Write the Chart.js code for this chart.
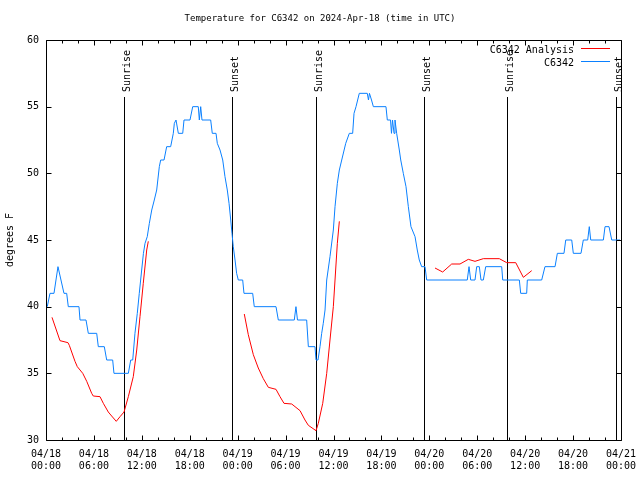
<!DOCTYPE html>
<html>
<head>
<meta charset="utf-8">
<title>Temperature for C6342</title>
<script src="https://cdn.jsdelivr.net/npm/chart.js@4.4.1/dist/chart.umd.min.js"></script>
<style>
  html, body { margin: 0; padding: 0; background: #fff; }
  #chart { display: block; }
</style>
</head>
<body>
<canvas id="chart" width="640" height="480"></canvas>
<script>
// all times are hours since 2024-04-18 00:00 UTC
const obsHours = [
  0.16, 0.5, 1.0, 1.5, 2.25, 2.59, 2.79, 4.13, 4.26, 5.01, 5.3, 6.35, 6.55, 7.3, 7.6, 8.35, 8.51,
  10.31, 10.61, 10.86, 11.14, 11.43, 11.68, 11.98, 12.2, 12.4, 12.68, 12.94, 13.24, 13.56, 13.86,
  14.19, 14.36, 14.78, 15.11, 15.61, 15.94, 16.07, 16.28, 16.57, 17.12, 17.28, 18.03, 18.37, 19.07,
  19.2, 19.37, 19.53, 20.62, 20.82, 21.29, 21.45, 21.79, 22.13, 22.41, 22.7, 22.92, 23.13, 23.29,
  23.45, 23.67, 23.87, 24.08, 24.63, 24.79, 25.88, 26.08, 28.8, 29.09, 31.09, 31.3, 31.49, 32.64,
  32.85, 33.68, 33.81, 34.06, 34.31, 34.52, 34.72, 34.94, 35.15, 35.56, 35.98, 36.19, 36.48, 36.73,
  37.03, 37.53, 37.98, 38.4, 38.57, 38.82, 39.23, 40.23, 40.38, 40.5, 40.76, 40.99, 42.57, 42.74,
  43.14, 43.26, 43.39, 43.58, 43.7, 43.91, 44.24, 44.42, 44.74, 45.08, 45.37, 45.7, 46.21, 46.49,
  46.74, 47.04, 47.46, 47.67, 52.75, 52.97, 53.18, 53.72, 53.93, 54.26, 54.47, 54.76, 55.06, 57.06,
  57.19, 59.27, 59.44, 60.19, 60.27, 62.07, 62.48, 63.74, 64.03, 64.86, 65.08, 65.83, 66.03, 66.99,
  67.28, 67.83, 68.03, 68.21, 69.79, 70.0, 70.5, 70.84, 71.88
];
const obsTemps = [
  40, 41, 41, 43, 41, 41, 40, 40, 39, 39, 38, 38, 37, 37, 36, 36, 35,
  35, 36, 36, 38, 39.5, 41, 42.75, 44, 44.75, 45.25, 46.25, 47.25, 48, 48.75,
  50.5, 51, 51, 52, 52, 53, 53.75, 54, 53, 53, 54, 54, 55, 55,
  54, 55, 54, 54, 53, 53, 52.25, 51.75, 51, 49.75, 48.75, 47.75, 46.5, 45.5,
  44.5, 43.5, 42.5, 42, 42, 41, 41, 40, 40, 39, 39, 40, 39, 39,
  37, 37, 36, 36, 37, 38, 38.75, 39.75, 42, 43.75, 45.75, 47.5, 49.25, 50.25,
  51, 52.25, 53, 53, 54.5, 55, 56, 56, 55.5, 56, 55.5, 55, 55, 54,
  54, 53, 54, 53, 54, 53, 51.75, 51, 50, 49, 47.5, 46, 45.25, 44.25,
  43.5, 43, 43, 42, 42, 43, 42, 42, 43, 43, 42, 42, 43, 43,
  42, 42, 41, 41, 42, 42, 43, 43, 44, 44, 45, 45, 44, 44,
  45, 45, 46, 45, 45, 46, 46, 45, 45
];

// analysis runs, a null temperature breaks the line
const analysisHours = [
  0.75, 1.75, 2.75, 2.92, 3.63, 3.92, 4.6, 5.1, 5.72, 5.92, 6.76, 7.18, 7.8, 8.22, 8.8, 9.27, 9.77,
  10.31, 10.93, 11.36, 11.77, 12.18, 12.61, 12.81,
  18,
  24.83, 25.33, 25.96, 26.58, 27.21, 27.84, 28.8, 29.3, 29.8, 30.77, 31.81, 32.43, 32.85, 33.81,
  34.1, 34.65, 35.15, 35.56, 35.98, 36.19, 36.48, 36.73,
  42,
  48.71, 49.67, 50.8, 51.84, 52.88, 53.72, 54.76, 56.76, 57.69, 58.82, 59.77, 60.82
];
const analysisTemps = [
  39.2, 37.45, 37.3, 37.1, 35.9, 35.5, 35.0, 34.4, 33.5, 33.3, 33.25, 32.75, 32.1, 31.8, 31.4, 31.75, 32.1,
  33.25, 34.75, 36.75, 39.25, 41.75, 44.25, 44.9,
  null,
  39.45, 37.9, 36.4, 35.4, 34.6, 33.95, 33.8, 33.25, 32.75, 32.7, 32.2, 31.5, 31.1, 30.7,
  31.25, 32.75, 35, 37.5, 40, 42, 44.75, 46.4,
  null,
  42.9, 42.6, 43.2, 43.2, 43.55, 43.4, 43.6, 43.6, 43.3, 43.3, 42.2, 42.7
];

const sunHours  = [9.78, 23.35, 33.8, 47.37, 57.75, 71.42];
const sunLabels = ['Sunrise', 'Sunset', 'Sunrise', 'Sunset', 'Sunrise', 'Sunset'];

// one label every 6 hours
const xTickLabels = [
  ['04/18', '00:00'], ['04/18', '06:00'], ['04/18', '12:00'], ['04/18', '18:00'],
  ['04/19', '00:00'], ['04/19', '06:00'], ['04/19', '12:00'], ['04/19', '18:00'],
  ['04/20', '00:00'], ['04/20', '06:00'], ['04/20', '12:00'], ['04/20', '18:00'],
  ['04/21', '00:00']
];

const FONT = '10px "DejaVu Sans Mono"';
const OBS_COLOR = '#0a80ff';
const ANA_COLOR = '#ff0000';

const gnuplotDecor = {
  id: 'gnuplotDecor',
  beforeDatasetsDraw(chart) {
    const { ctx, chartArea: a, scales: { x } } = chart;
    ctx.save();
    ctx.strokeStyle = '#000';
    ctx.fillStyle = '#000';
    ctx.lineWidth = 1;
    ctx.font = FONT;
    sunHours.forEach((h, i) => {
      const px = Math.round(x.getPixelForValue(h)) + 0.5;
      ctx.beginPath();
      ctx.moveTo(px, a.top + 57);
      ctx.lineTo(px, a.bottom);
      ctx.stroke();
      ctx.save();
      ctx.translate(px + 3, a.top + 52);
      ctx.rotate(-Math.PI / 2);
      ctx.textAlign = 'left';
      ctx.textBaseline = 'middle';
      ctx.fillText(sunLabels[i], 0, 0);
      ctx.restore();
    });
    ctx.restore();
  },
  afterDatasetsDraw(chart) {
    const { ctx, chartArea: a, scales: { x, y } } = chart;
    const L = Math.round(a.left) + 0.5, R = Math.round(a.right) + 0.5;
    const T = Math.round(a.top) + 0.5, B = Math.round(a.bottom) + 0.5;
    ctx.save();
    ctx.strokeStyle = '#000';
    ctx.lineWidth = 1;
    ctx.beginPath();
    ctx.rect(L, T, R - L, B - T);
    x.ticks.forEach(t => {
      const px = Math.round(x.getPixelForValue(t.value)) + 0.5;
      const len = t.value % 6 === 0 ? 5 : 3;
      ctx.moveTo(px, B); ctx.lineTo(px, B - len);
      ctx.moveTo(px, T); ctx.lineTo(px, T + len);
    });
    y.ticks.forEach(t => {
      const py = Math.round(y.getPixelForValue(t.value)) + 0.5;
      ctx.moveTo(L, py); ctx.lineTo(L + 5, py);
      ctx.moveTo(R, py); ctx.lineTo(R - 5, py);
    });
    ctx.stroke();
    ctx.restore();
  },
  afterDraw(chart) {
    const { ctx, chartArea: a } = chart;
    ctx.save();
    ctx.font = FONT;
    ctx.fillStyle = '#000';
    ctx.textBaseline = 'middle';

    ctx.textAlign = 'center';
    ctx.font = '9px "DejaVu Sans Mono"';
    ctx.fillText('Temperature for C6342 on 2024-Apr-18 (time in UTC)', 320, 19);
    ctx.font = FONT;

    ctx.save();
    ctx.translate(10, (a.top + a.bottom) / 2);
    ctx.rotate(-Math.PI / 2);
    ctx.fillText('degrees F', 0, 0);
    ctx.restore();

    // key, gnuplot style: text then sample line
    const keys = [['C6342 Analysis', ANA_COLOR], ['C6342', OBS_COLOR]];
    ctx.textAlign = 'right';
    keys.forEach((k, i) => {
      const ky = a.top + 10 + i * 13;
      ctx.fillStyle = '#000';
      ctx.fillText(k[0], a.right - 47, ky);
      ctx.strokeStyle = k[1];
      ctx.lineWidth = 1;
      ctx.beginPath();
      ctx.moveTo(a.right - 40, Math.round(ky) - 1.5);
      ctx.lineTo(a.right - 11, Math.round(ky) - 1.5);
      ctx.stroke();
    });
    ctx.restore();
  }
};

const ctx = document.getElementById('chart');

const chart = new Chart(ctx, {
  type: 'line',
  data: {
    datasets: [{
      label: 'C6342',
      data: obsHours.map((h, i) => ({ x: h, y: obsTemps[i] })),
      borderColor: OBS_COLOR,
      borderWidth: 1,
      pointRadius: 0,
      tension: 0,
      order: 1
    }, {
      label: 'C6342 Analysis',
      data: analysisHours.map((h, i) => ({ x: h, y: analysisTemps[i] })),
      borderColor: ANA_COLOR,
      borderWidth: 1,
      pointRadius: 0,
      tension: 0,
      spanGaps: false,
      order: 2
    }]
  },
  options: {
    responsive: false,
    animation: false,
    devicePixelRatio: 1,
    layout: { padding: { top: 40, right: 19, left: 0, bottom: 0 } },
    plugins: {
      legend: { display: false },
      tooltip: { enabled: false },
      title: { display: false }
    },
    scales: {
      x: {
        type: 'linear',
        min: 0,
        max: 72,
        afterFit: s => { s.height = 40; s.paddingLeft = 0; s.paddingRight = 0; },
        grid: { display: false, drawTicks: false },
        border: { display: false },
        ticks: {
          stepSize: 2,
          autoSkip: false,
          maxRotation: 0,
          minRotation: 0,
          padding: 8,
          color: '#000',
          font: { family: 'DejaVu Sans Mono', size: 10, lineHeight: 1.2 },
          callback: v => (v % 6 === 0 ? xTickLabels[v / 6] : '')
        }
      },
      y: {
        min: 30,
        max: 60,
        afterFit: s => { s.width = 46; s.paddingTop = 0; s.paddingBottom = 0; },
        grid: { display: false, drawTicks: false },
        border: { display: false },
        ticks: {
          stepSize: 5,
          padding: 7,
          color: '#000',
          font: { family: 'DejaVu Sans Mono', size: 10 }
        }
      }
    }
  },
  plugins: [gnuplotDecor]
});
</script>
</body>
</html>
